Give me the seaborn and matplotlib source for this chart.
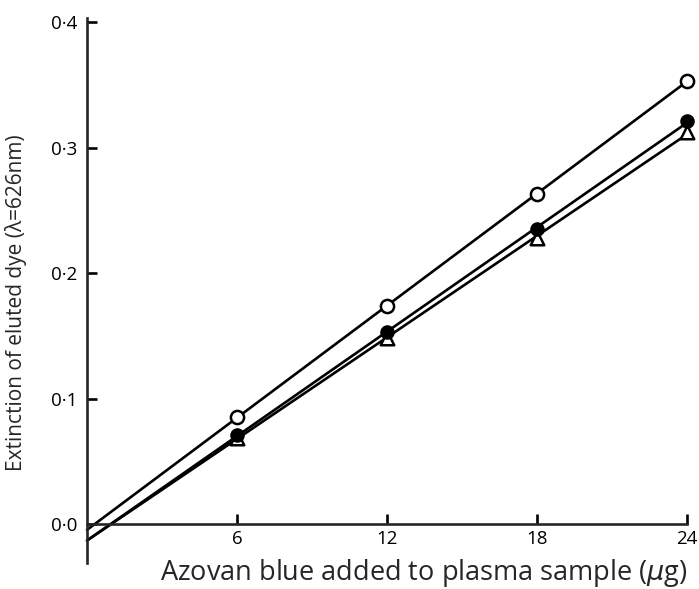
import numpy as np
import seaborn as sns
import matplotlib.pyplot as plt

# Azovan blue added (ug) and extinction readings for the three series
dose = [6, 12, 18, 24]
open_circles = [0.085, 0.174, 0.263, 0.353]
filled_circles = [0.071, 0.153, 0.235, 0.321]
open_triangles = [0.069, 0.148, 0.228, 0.312]

xticks = [6, 12, 18, 24]
yticks = [0.0, 0.1, 0.2, 0.3, 0.4]
ytick_labels = ['0·0', '0·1', '0·2', '0·3', '0·4']

sns.set_style('ticks')
plt.rcParams['font.family'] = ['Open Sans', 'DejaVu Sans']

fig = plt.figure(figsize=(6.99, 5.89), dpi=100)
ax = fig.add_axes([0.1245, 0.044, 0.8584, 0.925])

series = [
    (open_triangles, '^', 'white', 95),
    (filled_circles, 'o', 'black', 75),
    (open_circles, 'o', 'white', 90),
]

for y, marker, face, size in series:
    coef = np.polyfit(dose, y, 1)
    xs = np.array([0, dose[-1]])
    sns.lineplot(x=xs, y=np.polyval(coef, xs), color='black', lw=1.9, ax=ax, clip_on=False)
    sns.scatterplot(x=dose, y=y, marker=marker, s=size, color=face, edgecolor='black',
                    linewidth=1.8, zorder=3, ax=ax, clip_on=False)

ax.set_xlim(0, 24)
ax.set_ylim(-0.031, 0.403)
ax.set_xticks(xticks)
ax.set_yticks(yticks)
ax.set_yticklabels(ytick_labels)

sns.despine(ax=ax)
ax.spines['bottom'].set_position(('data', 0))
ax.spines['left'].set_linewidth(1.9)
ax.spines['bottom'].set_linewidth(1.9)
ax.tick_params(direction='in', length=7, width=1.9, labelsize=13.5, colors='black')
ax.tick_params(axis='y', pad=7)
ax.tick_params(axis='x', pad=4)

ax.set_xlabel('Azovan blue added to plasma sample ($\\mu$g)', fontsize=19.5)
ax.xaxis.set_label_coords(0.561, 0.012)
ax.set_ylabel('Extinction of eluted dye (λ=626nm)', fontsize=15)
ax.yaxis.set_label_coords(-0.1, 0.478)

fig.savefig('out.png', dpi=100)
